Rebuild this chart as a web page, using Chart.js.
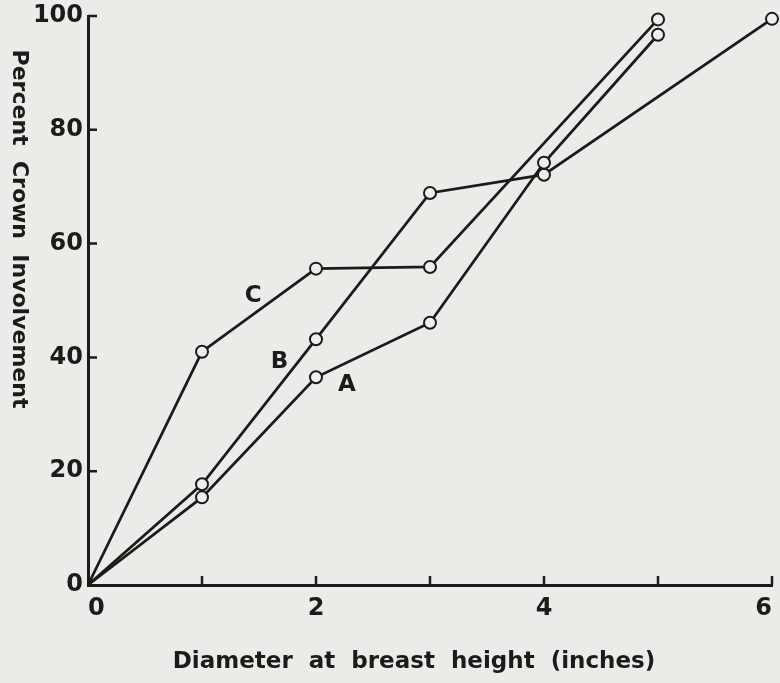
<!DOCTYPE html>
<html>
<head>
<meta charset="utf-8">
<script src="https://cdn.jsdelivr.net/npm/chart.js@4/dist/chart.umd.min.js"></script>
<style>
  html, body { margin: 0; padding: 0; background: #ecebe8; }
  canvas { display: block; }
</style>
</head>
<body>
<canvas id="chart" width="780" height="683"></canvas>
<script>
const INK = "#1b1b1b";
const PAPER = "#efeeeb";

// diameter at breast height (inches)
const diameters = [0, 1, 2, 3, 4, 5, 6];
// percent crown involvement, null = no observation
const seriesA = [0, 15.4, 36.5, 46.1, 74.2, 96.7, null];
const seriesB = [0, 17.7, 43.2, 68.9, 72.1, null, 99.5];
const seriesC = [0, 41.0, 55.6, 55.9, null, 99.4, null];
const seriesNames = ["A", "B", "C"];

// where the curve letters sit, in data units
const letterX = [2.27, 1.68, 1.45];
const letterY = [35.1, 39.2, 50.8];

const xTickLabels = { 0: "0", 2: "2", 4: "4", 6: "6" };
const yTickValues = [0, 20, 40, 60, 80, 100];

function toPoints(values) {
  return diameters.map((d, i) => ({ x: d, y: values[i] }));
}

function makeDataset(name, values) {
  return {
    label: name,
    data: toPoints(values),
    borderColor: INK,
    borderWidth: 2.8,
    tension: 0,
    spanGaps: true,
    clip: false,
    pointRadius: (ctx) => (ctx.dataIndex === 0 ? 0 : 6),
    pointHoverRadius: 6,
    pointBackgroundColor: PAPER,
    pointBorderColor: INK,
    pointBorderWidth: 2,
  };
}

// tick marks point into the plot, the old drafting way
const innerTicks = {
  id: "innerTicks",
  afterDatasetsDraw(chart) {
    const { ctx, scales, chartArea } = chart;
    ctx.save();
    ctx.strokeStyle = INK;
    ctx.lineWidth = 2.5;
    ctx.beginPath();
    scales.x.ticks.forEach((t) => {
      if (t.value === 0) return;
      const px = scales.x.getPixelForValue(t.value);
      ctx.moveTo(px, chartArea.bottom);
      ctx.lineTo(px, chartArea.bottom - 9);
    });
    scales.y.ticks.forEach((t) => {
      if (t.value === 0) return;
      const py = scales.y.getPixelForValue(t.value);
      ctx.moveTo(chartArea.left, py);
      ctx.lineTo(chartArea.left + 9, py);
    });
    ctx.stroke();
    ctx.restore();
  },
};

const annotations = {
  id: "annotations",
  afterDraw(chart) {
    const { ctx, scales } = chart;
    ctx.save();
    ctx.fillStyle = INK;
    ctx.textAlign = "center";
    ctx.textBaseline = "middle";

    // curve letters
    ctx.font = "bold 23px 'DejaVu Sans'";
    seriesNames.forEach((n, i) => {
      ctx.fillText(n, scales.x.getPixelForValue(letterX[i]), scales.y.getPixelForValue(letterY[i]));
    });

    // x title sits a little left of the plot centre
    ctx.font = "bold 23px 'DejaVu Sans'";
    ctx.fillText("Diameter  at  breast  height  (inches)", 414, 662);

    // y title reads top to bottom
    ctx.font = "bold 22px 'DejaVu Sans'";
    ctx.translate(19, 229);
    ctx.rotate(Math.PI / 2);
    ctx.fillText("Percent  Crown  Involvement", 0, 0);
    ctx.restore();
  },
};

new Chart(document.getElementById("chart"), {
  type: "line",
  data: {
    datasets: [
      makeDataset("A", seriesA),
      makeDataset("B", seriesB),
      makeDataset("C", seriesC),
    ],
  },
  options: {
    responsive: false,
    animation: false,
    events: [],
    layout: { padding: { left: 0, top: 16, right: 8, bottom: 0 } },
    plugins: { legend: { display: false }, tooltip: { enabled: false } },
    scales: {
      x: {
        type: "linear",
        min: 0,
        max: 6,
        afterFit: (s) => { s.height = 98; s.paddingLeft = 0; s.paddingRight = 0; },
        border: { display: true, color: INK, width: 3 },
        grid: { drawOnChartArea: false, drawTicks: false },
        ticks: {
          stepSize: 1,
          autoSkip: false,
          maxRotation: 0,
          align: "inner",
          padding: 9,
          color: INK,
          font: { family: "'DejaVu Sans'", size: 24, weight: "bold" },
          callback: (v) => xTickLabels[v] ?? "",
        },
      },
      y: {
        type: "linear",
        min: 0,
        max: 100,
        afterFit: (s) => { s.width = 88; s.paddingTop = 0; s.paddingBottom = 0; },
        afterBuildTicks: (s) => { s.ticks = yTickValues.map((v) => ({ value: v })); },
        border: { display: true, color: INK, width: 3 },
        grid: { drawOnChartArea: false, drawTicks: false },
        ticks: {
          padding: 5,
          color: INK,
          font: { family: "'DejaVu Sans'", size: 24, weight: "bold" },
        },
      },
    },
  },
  plugins: [innerTicks, annotations],
});
</script>
</body>
</html>
